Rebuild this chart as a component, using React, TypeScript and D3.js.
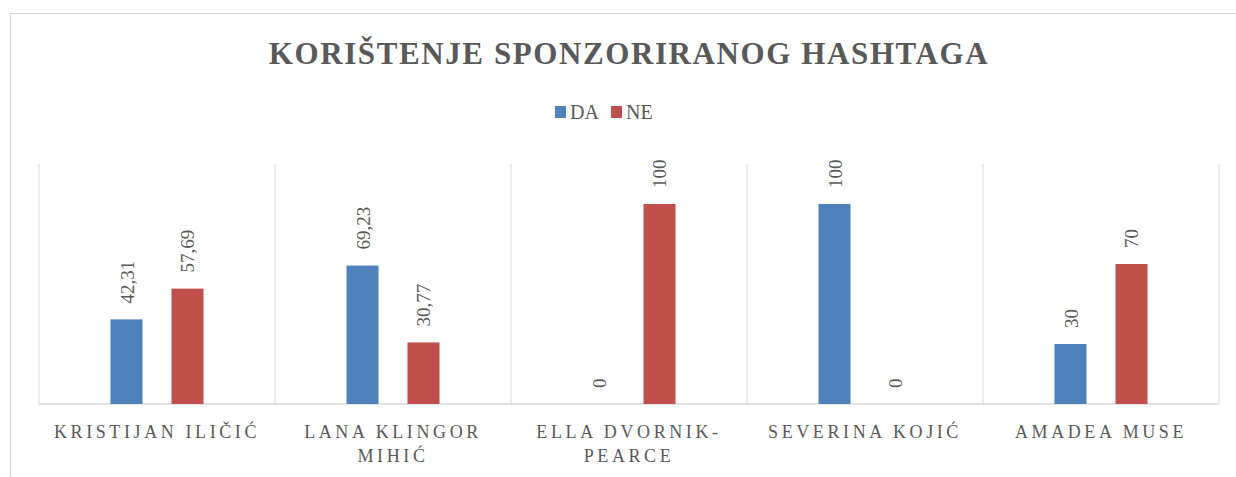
import React from "react";
import * as d3 from "d3";

const categories = ["KRISTIJAN ILIČIĆ", "LANA KLINGOR MIHIĆ", "ELLA DVORNIK-PEARCE", "SEVERINA KOJIĆ", "AMADEA MUSE"];
const categoryLines = [["KRISTIJAN ILIČIĆ"], ["LANA KLINGOR", "MIHIĆ"], ["ELLA DVORNIK-", "PEARCE"], ["SEVERINA KOJIĆ"], ["AMADEA MUSE"]];
const seriesNames = ["DA", "NE"];
const daValues = [42.31, 69.23, 0, 100, 30];
const neValues = [57.69, 30.77, 100, 0, 70];
const valueLabels = [["42,31", "69,23", "0", "100", "30"], ["57,69", "30,77", "100", "0", "70"]];
const title = "KORIŠTENJE SPONZORIRANOG HASHTAGA";

const colors = ["#4F81BD", "#C0504D"];
const W = 1236, H = 477;
const plot = { left: 39, right: 1219, top: 164, bottom: 404 };
const FONT = "'Liberation Serif', serif";
const TEXT = "#595959";
const GRID = "#D9D9D9";

export default function App() {
  const series = [daValues, neValues];
  const x = d3.scaleBand<string>().domain(categories).range([plot.left, plot.right]).paddingInner(0).paddingOuter(0);
  const xi = d3.scaleBand<string>().domain(seriesNames).range([0, x.bandwidth()]).paddingInner(0.475).paddingOuter(1.172);
  const y = d3.scaleLinear().domain([0, 120]).range([plot.bottom, plot.top]);
  const bounds = categories.map((c) => x(c)!).concat([plot.right]);

  return (
    <svg width={W} height={H} style={{ position: "absolute", left: 0, top: 0, background: "#fff" }}>
      <rect x={10.5} y={13.5} width={W + 20} height={H + 20} fill="#fff" stroke={GRID} strokeWidth={1} />
      <text x={629} y={64} textAnchor="middle" fontFamily={FONT} fontWeight="bold" fontSize={31} letterSpacing={1.6} fill={TEXT}>{title}</text>
      <g fontFamily={FONT} fontSize={20} fill={TEXT}>
        {seriesNames.map((s, i) => (
          <g key={s} transform={`translate(${555 + i * 56},0)`}>
            <rect x={0} y={106} width={11} height={12} fill={colors[i]} />
            <text x={15} y={119}>{s}</text>
          </g>
        ))}
      </g>
      {bounds.map((b, i) => (
        <line key={i} x1={b} x2={b} y1={plot.top} y2={plot.bottom} stroke={GRID} strokeWidth={1} />
      ))}
      <line x1={plot.left} x2={plot.right} y1={plot.bottom} y2={plot.bottom} stroke={GRID} strokeWidth={1.5} />
      {categories.map((c, ci) => (
        <g key={c}>
          {series.map((vals, si) => {
            const bx = x(c)! + xi(seriesNames[si])!;
            const bw = xi.bandwidth();
            const top = y(vals[ci]);
            return (
              <g key={si}>
                <rect x={bx} y={top} width={bw} height={plot.bottom - top} fill={colors[si]} />
                <text transform={`translate(${bx + bw / 2 + 7},${top - 16}) rotate(-90)`} fontFamily={FONT} fontSize={19} fill={TEXT}>{valueLabels[si][ci]}</text>
              </g>
            );
          })}
          <text x={x(c)! + x.bandwidth() / 2} y={438} textAnchor="middle" fontFamily={FONT} fontSize={18} letterSpacing={3.6} fill={TEXT}>
            {categoryLines[ci].map((l, li) => (
              <tspan key={li} x={x(c)! + x.bandwidth() / 2} dy={li === 0 ? 0 : 24}>{l}</tspan>
            ))}
          </text>
        </g>
      ))}
    </svg>
  );
}
